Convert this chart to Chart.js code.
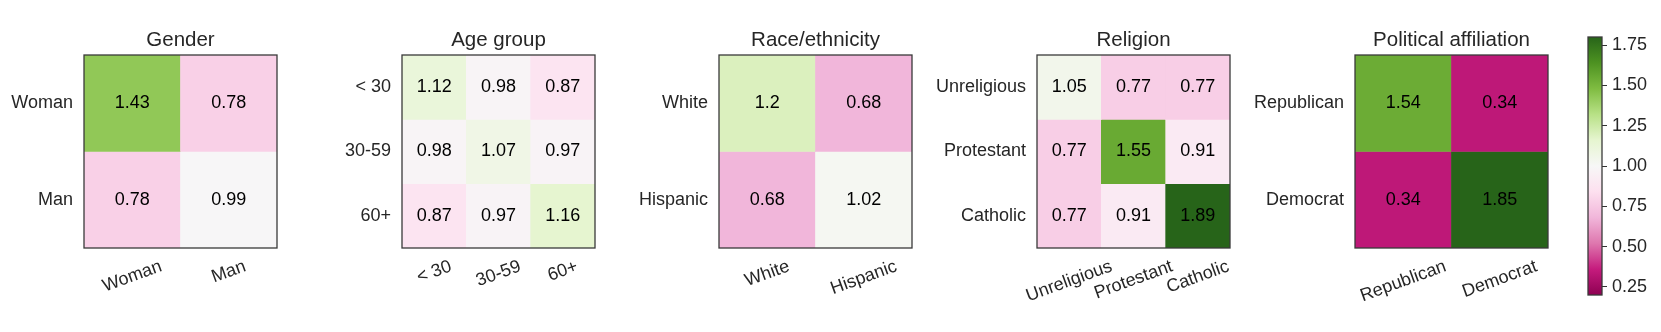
<!DOCTYPE html>
<html>
<head>
<meta charset="utf-8">
<title>Heatmaps</title>
<script src="https://cdn.jsdelivr.net/npm/chart.js@4.4.0/dist/chart.umd.min.js"></script>
<style>
  html, body { margin: 0; padding: 0; background: #fff; }
  #wrap { position: relative; width: 1661px; height: 332px; overflow: hidden; background: #fff; }
  #wrap canvas { position: absolute; top: 0; }
</style>
</head>
<body>
<div id="wrap"></div>
<script>
// Panel titles and category labels
const titles = ['Gender', 'Age group', 'Race/ethnicity', 'Religion', 'Political affiliation'];
const genderLabels = ['Woman', 'Man'];
const ageLabels = ['< 30', '30-59', '60+'];
const raceLabels = ['White', 'Hispanic'];
const religionLabels = ['Unreligious', 'Protestant', 'Catholic'];
const partyLabels = ['Republican', 'Democrat'];

// Matrix values, one row per y label (top row first)
const genderValues = [[1.43, 0.78], [0.78, 0.99]];
const ageValues = [[1.12, 0.98, 0.87], [0.98, 1.07, 0.97], [0.87, 0.97, 1.16]];
const raceValues = [[1.2, 0.68], [0.68, 1.02]];
const religionValues = [[1.05, 0.77, 0.77], [0.77, 1.55, 0.91], [0.77, 0.91, 1.89]];
const partyValues = [[1.54, 0.34], [0.34, 1.85]];

// Colour bar range and tick labels
const normMin = 0.2;
const normMax = 1.8;
const colorbarTicks = [0.25, 0.5, 0.75, 1.0, 1.25, 1.5, 1.75];

// matplotlib PiYG
const PIYG = ['#8e0152', '#c51b7d', '#de77ae', '#f1b6da', '#fde0ef', '#f7f7f7',
              '#e6f5d0', '#b8e186', '#7fbc41', '#4d9221', '#276419'];

const FONT = "'Liberation Sans', Arial, sans-serif";
const TEXT = '#262626';
const H = 332;
const BOX = 193;
const LEFT = 110;
const RIGHT = 30;
const boxLefts = [84, 402, 719, 1037, 1355];
const ROT = 20 * Math.PI / 180;

Chart.defaults.font.family = FONT;
Chart.defaults.animation = false;

const wrap = document.getElementById('wrap');

function hexToRgb(h) {
    return [parseInt(h.slice(1, 3), 16), parseInt(h.slice(3, 5), 16), parseInt(h.slice(5, 7), 16)];
}

function piyg(v) {
    let t = (v - normMin) / (normMax - normMin);
    t = Math.min(1, Math.max(0, t)) * (PIYG.length - 1);
    const i = Math.min(Math.floor(t), PIYG.length - 2);
    const f = t - i;
    const a = hexToRgb(PIYG[i]), b = hexToRgb(PIYG[i + 1]);
    const c = a.map((x, k) => Math.round(x + (b[k] - x) * f));
    return 'rgb(' + c.join(',') + ')';
}

// box around the plot area
const framePlugin = {
    id: 'frame',
    afterDatasetsDraw(chart) {
        const {ctx, chartArea: a} = chart;
        ctx.save();
        ctx.strokeStyle = '#3a3a3a';
        ctx.lineWidth = 1.3;
        ctx.strokeRect(a.left, a.top, a.right - a.left, a.bottom - a.top);
        ctx.restore();
    }
};

// numbers in the cells
const cellTextPlugin = {
    id: 'cellText',
    afterDatasetsDraw(chart) {
        const ctx = chart.ctx;
        ctx.save();
        ctx.font = '18px ' + FONT;
        ctx.fillStyle = '#000';
        ctx.textAlign = 'center';
        ctx.textBaseline = 'middle';
        chart.data.datasets.forEach((ds, di) => {
            chart.getDatasetMeta(di).data.forEach((bar, j) => {
                const p = bar.getProps(['x', 'y', 'base'], true);
                ctx.fillText(String(ds.cellValues[j]), p.x, (p.y + p.base) / 2);
            });
        });
        ctx.restore();
    }
};

// rotated x tick labels, centred under each column
const xLabelPlugin = {
    id: 'xLabels',
    afterDraw(chart) {
        const ctx = chart.ctx;
        const xs = chart.scales.x;
        ctx.save();
        ctx.font = '18px ' + FONT;
        ctx.fillStyle = TEXT;
        ctx.textAlign = 'center';
        ctx.textBaseline = 'middle';
        chart.data.labels.forEach((lab, j) => {
            const w = ctx.measureText(lab).width;
            const cx = xs.getPixelForValue(j);
            const cy = chart.chartArea.bottom + 9 + (w * Math.sin(ROT) + 19 * Math.cos(ROT)) / 2;
            ctx.save();
            ctx.translate(cx, cy);
            ctx.rotate(-ROT);
            ctx.fillText(lab, 0, 0);
            ctx.restore();
        });
        ctx.restore();
    }
};

function createHeatmap(idx, labels, values) {
    const canvas = document.createElement('canvas');
    const width = LEFT + BOX + RIGHT;
    canvas.width = width;
    canvas.height = H;
    canvas.style.width = width + 'px';
    canvas.style.height = H + 'px';
    canvas.style.left = (boxLefts[idx] - LEFT) + 'px';
    wrap.appendChild(canvas);

    const datasets = values.map((row, r) => ({
        data: row.map(() => [r, r + 1]),
        cellValues: row,
        backgroundColor: row.map(piyg),
        borderWidth: 0,
        barPercentage: 1,
        categoryPercentage: 1,
        grouped: false
    }));

    new Chart(canvas, {
        type: 'bar',
        data: { labels: labels, datasets: datasets },
        options: {
            responsive: false,
            events: [],
            layout: { padding: { left: 0, right: RIGHT, top: 0, bottom: H - 248 } },
            plugins: {
                legend: { display: false },
                tooltip: { enabled: false },
                title: {
                    display: true,
                    fullSize: false,
                    align: 'center',
                    text: titles[idx],
                    color: TEXT,
                    font: { size: 20.5, weight: 'normal' },
                    padding: { top: 28, bottom: 2.4 }
                }
            },
            scales: {
                x: {
                    type: 'category',
                    grid: { display: false },
                    border: { display: false },
                    ticks: { display: false },
                    afterFit: (s) => { s.height = 0; }
                },
                y: {
                    type: 'linear',
                    min: 0,
                    max: labels.length,
                    reverse: true,
                    grid: { display: false, drawTicks: false },
                    border: { display: false },
                    ticks: {
                        padding: 11,
                        color: TEXT,
                        font: { size: 18 },
                        callback: (v, i) => labels[i]
                    },
                    afterBuildTicks: (s) => { s.ticks = labels.map((_, i) => ({ value: i + 0.5 })); },
                    afterFit: (s) => { s.width = LEFT; }
                }
            }
        },
        plugins: [framePlugin, cellTextPlugin, xLabelPlugin]
    });
}

function createColorbar() {
    const canvas = document.createElement('canvas');
    const left = 1578, width = 1661 - left;
    canvas.width = width;
    canvas.height = H;
    canvas.style.width = width + 'px';
    canvas.style.height = H + 'px';
    canvas.style.left = left + 'px';
    wrap.appendChild(canvas);

    new Chart(canvas, {
        type: 'bar',
        data: {
            labels: [''],
            datasets: [{
                data: [[normMin, normMax]],
                backgroundColor: (c) => {
                    const area = c.chart.chartArea;
                    if (!area) return PIYG[5];
                    const g = c.chart.ctx.createLinearGradient(0, area.bottom, 0, area.top);
                    PIYG.forEach((col, i) => g.addColorStop(i / (PIYG.length - 1), col));
                    return g;
                },
                borderWidth: 0,
                barPercentage: 1,
                categoryPercentage: 1
            }]
        },
        options: {
            responsive: false,
            events: [],
            layout: { padding: { left: 10, right: 0, top: 37, bottom: 37 } },
            plugins: { legend: { display: false }, tooltip: { enabled: false } },
            scales: {
                x: { display: false },
                y: {
                    position: 'right',
                    min: normMin,
                    max: normMax,
                    grid: { drawOnChartArea: false, drawTicks: true, tickLength: 5, color: '#333', lineWidth: 1 },
                    border: { display: false },
                    ticks: {
                        padding: 5,
                        color: TEXT,
                        font: { size: 18 },
                        callback: (v) => v.toFixed(2)
                    },
                    afterBuildTicks: (s) => { s.ticks = colorbarTicks.map((v) => ({ value: v })); },
                    afterFit: (s) => { s.width = width - 10 - 14; }
                }
            }
        },
        plugins: [framePlugin]
    });
}

createHeatmap(0, genderLabels, genderValues);
createHeatmap(1, ageLabels, ageValues);
createHeatmap(2, raceLabels, raceValues);
createHeatmap(3, religionLabels, religionValues);
createHeatmap(4, partyLabels, partyValues);
createColorbar();
</script>
</body>
</html>
